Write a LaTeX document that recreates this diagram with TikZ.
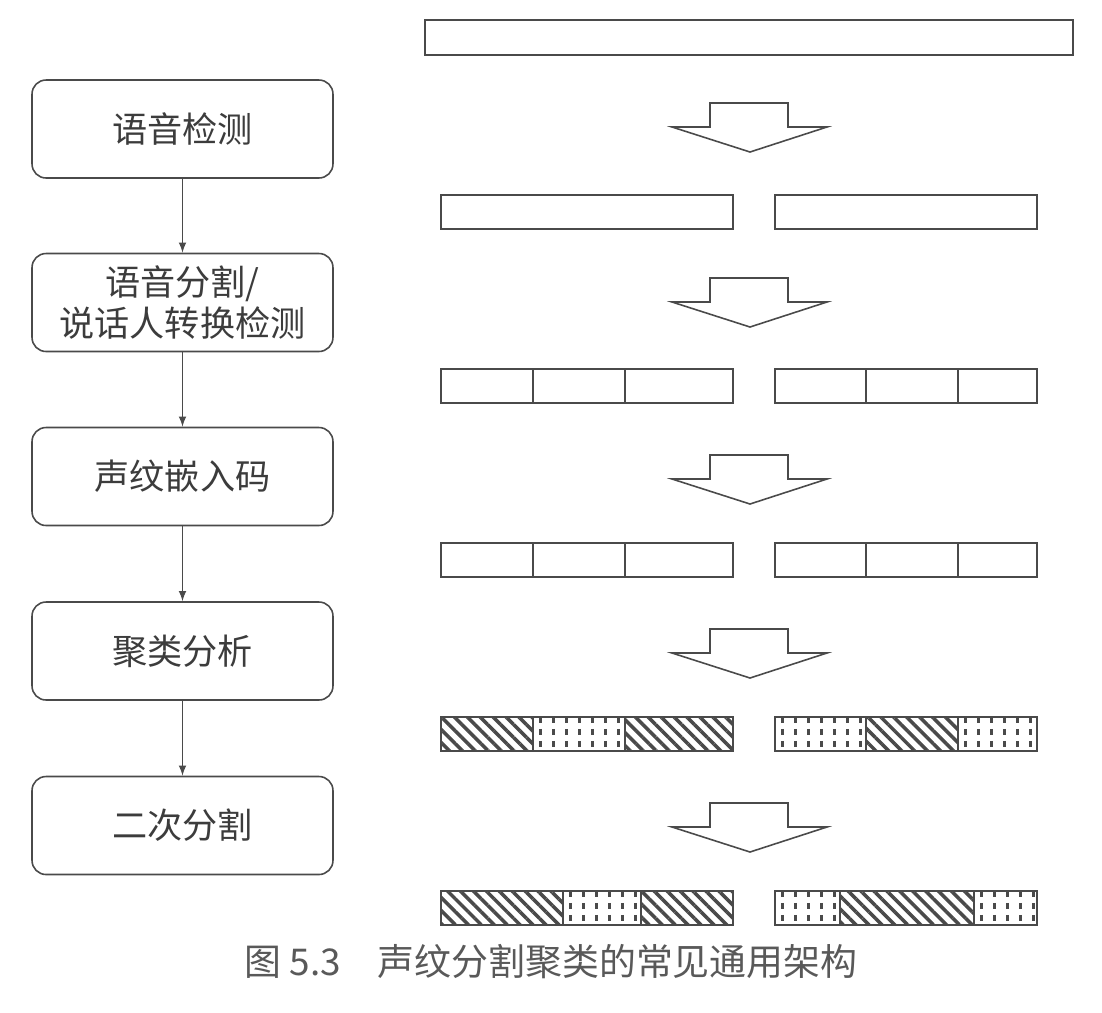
\documentclass[tikz,border=0pt]{standalone}
\usepackage{fontspec}
\setmainfont{Noto Sans CJK SC}
\usetikzlibrary{patterns.meta}
\definecolor{spkline}{HTML}{4A4A4A}
\definecolor{spktext}{HTML}{3C3C3C}

% one striped cell, one dotted cell (x1, x2, top y)
\newcommand{\hatchcell}[3]{%
  \draw[cell, pattern={Lines[angle=-45,distance=5.2pt,line width=2pt]}, pattern color=spkline]
    (#1,#3) rectangle (#2,#3+34);}
\newcommand{\dotcell}[3]{%
  \begin{scope}
    \clip (#1,#3) rectangle (#2,#3+34);
    \foreach \i in {0,...,12}
      \draw[dotline] ({#1+7+13*\i},#3) -- ++(0,34);
  \end{scope}
  \draw[cell] (#1,#3) rectangle (#2,#3+34);}

\begin{document}
\begin{tikzpicture}[
        x=0.02cm, y=-0.02cm,
        every node/.style={font=\fontsize{20}{23}\selectfont, text=spktext},
        stage/.style={
          draw=spkline, line width=0.9pt, rounded corners=0.28cm,
          minimum width=6.02cm, minimum height=1.96cm, align=center,
        },
        flow/.style={-latex, draw=spkline, line width=1pt},
        cell/.style={draw=spkline, line width=0.9pt},
        dotline/.style={draw=spkline, line width=1.7pt, dash pattern=on 3.5pt off 3.3pt},
        bigarrow/.style={draw=spkline, line width=0.9pt, fill=white},
      ]
      \useasboundingbox (0,0) rectangle (1102,1012);

      % left column
      \node[stage] (detect)    at (182.5,129)   {语音检测};
      \node[stage] (segment)   at (182.5,302.5) {语音分割/\\说话人转换检测};
      \node[stage] (embed)     at (182.5,476.5) {声纹嵌入码};
      \node[stage] (cluster)   at (182.5,651)   {聚类分析};
      \node[stage] (resegment) at (182.5,825.5) {二次分割};

      \draw[flow] (detect) -- (segment);
      \draw[flow] (segment) -- (embed);
      \draw[flow] (embed) -- (cluster);
      \draw[flow] (cluster) -- (resegment);

      % right column
      \draw[cell] (425,20) rectangle (1073,55);
      \draw[cell] (441,195) rectangle (733,229);
      \draw[cell] (775,195) rectangle (1037,229);
      \foreach \y in {369,543} {
        \draw[cell] (441,\y) rectangle (533,\y+34);
        \draw[cell] (533,\y) rectangle (625,\y+34);
        \draw[cell] (625,\y) rectangle (733,\y+34);
        \draw[cell] (775,\y) rectangle (866,\y+34);
        \draw[cell] (866,\y) rectangle (958,\y+34);
        \draw[cell] (958,\y) rectangle (1037,\y+34);
      }
      \hatchcell{441}{533}{717} \dotcell{533}{625}{717} \hatchcell{625}{733}{717}
      \dotcell{775}{866}{717} \hatchcell{866}{958}{717} \dotcell{958}{1037}{717}
      \hatchcell{441}{563}{891} \dotcell{563}{641}{891} \hatchcell{641}{733}{891}
      \dotcell{775}{840}{891} \hatchcell{840}{974}{891} \dotcell{974}{1037}{891}

      \foreach \y in {103,278,455,629,803}
        \draw[bigarrow] (710,\y) -- (788,\y) -- (788,\y+24) -- (827,\y+24)
          -- (750,\y+49) -- (672,\y+24) -- (710,\y+24) -- cycle;

      \node[font=\fontsize{21}{24}\selectfont, text=spktext!85] (caption) at (551,962)
        {图 5.3\hspace{1em}声纹分割聚类的常见通用架构};
\end{tikzpicture}
\end{document}
